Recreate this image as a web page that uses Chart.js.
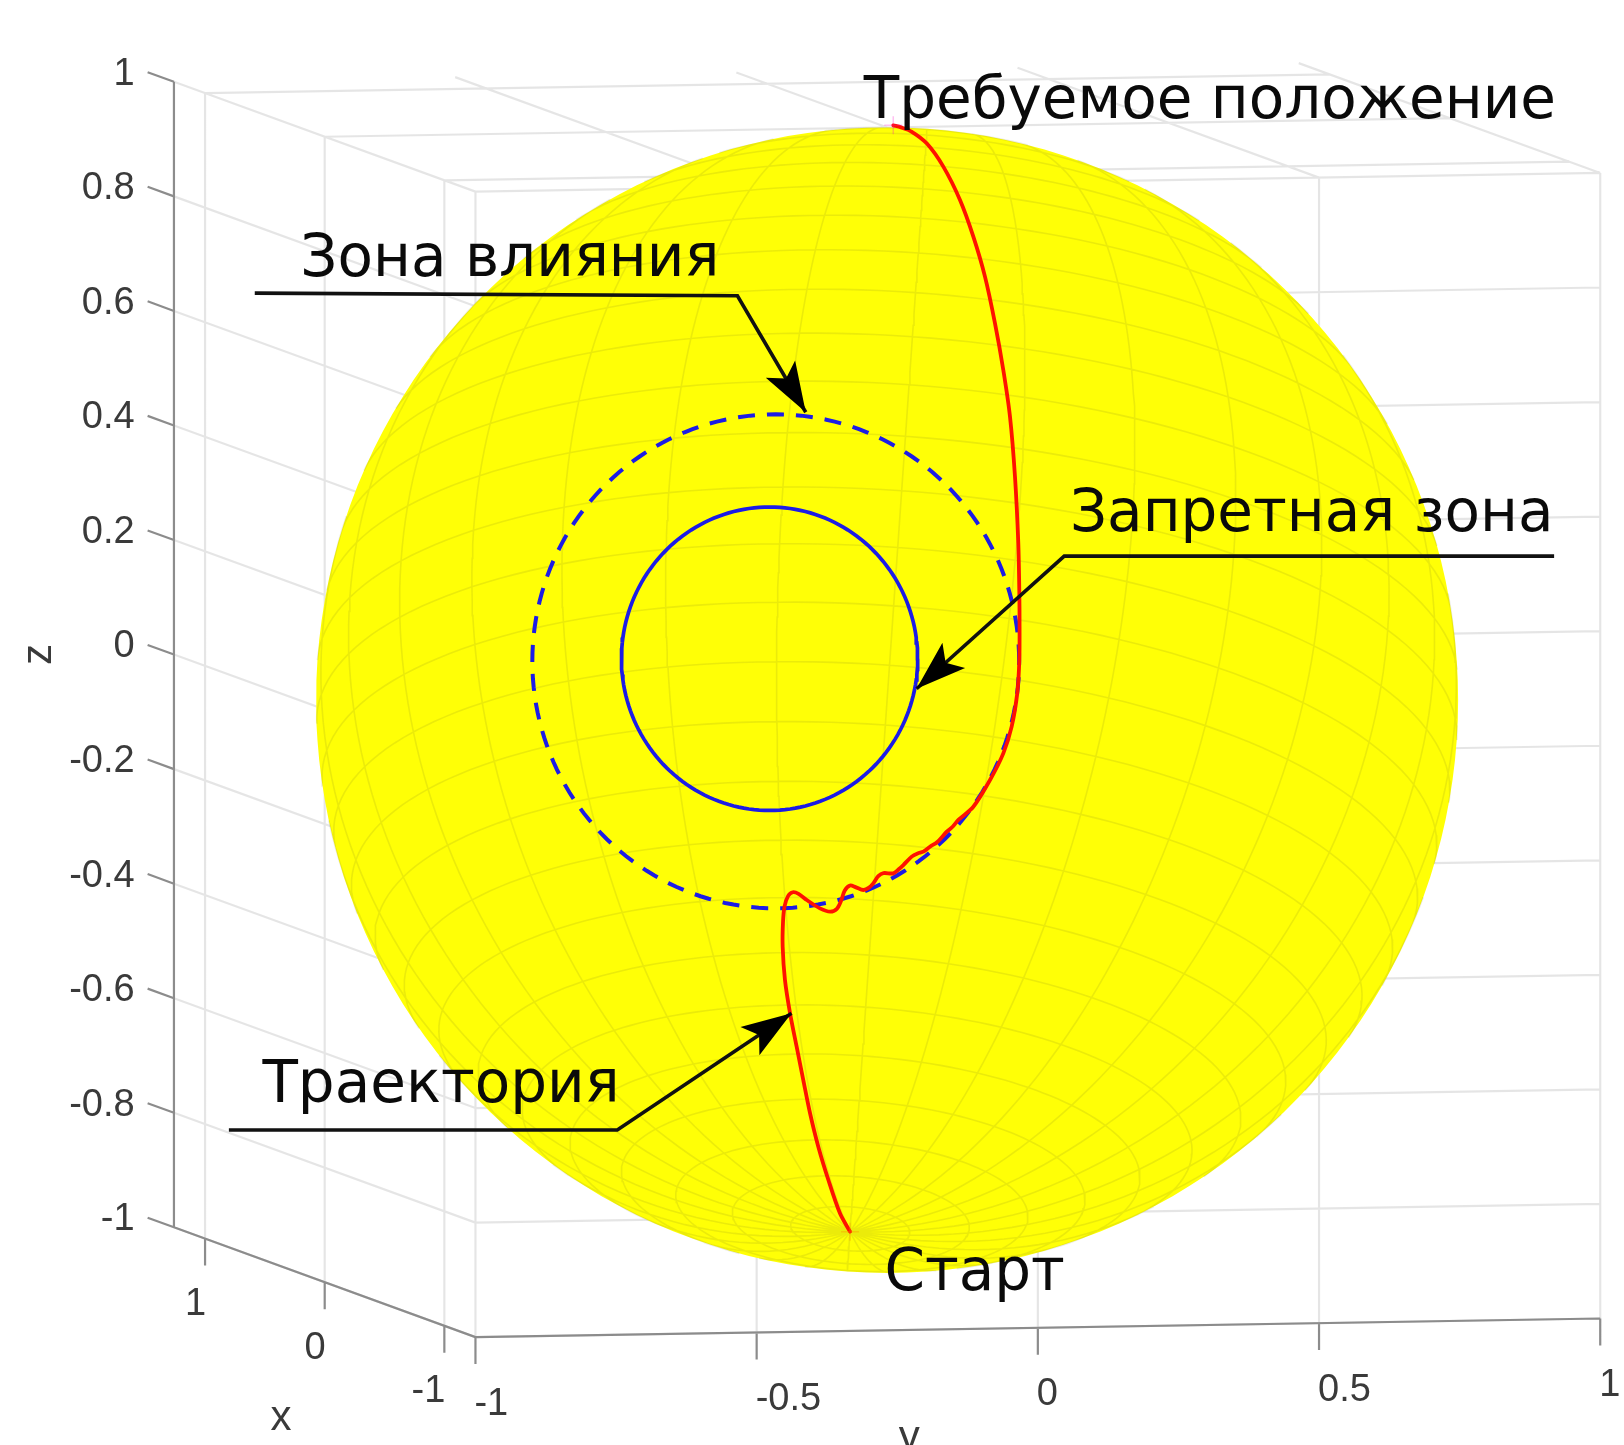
<!DOCTYPE html>
<html lang="ru">
<head>
<meta charset="utf-8">
<title>Траектория на сфере</title>
<script src="https://cdn.jsdelivr.net/npm/chart.js@4.4.1/dist/chart.umd.min.js"></script>
<style>
  html, body { margin: 0; padding: 0; background: #ffffff; }
  #wrap { width: 1624px; height: 1445px; }
  canvas { display: block; }
</style>
</head>
<body>
<div id="wrap"><canvas id="chart" width="1624" height="1445"></canvas></div>
<script>
// ---- Axis ticks of the 3-D box ----
const xTicks = [1, 0, -1];
const xTickLabels = ['1', '0', '-1'];
const yTicks = [-1, -0.5, 0, 0.5, 1];
const yTickLabels = ['-1', '-0.5', '0', '0.5', '1'];
const zTicks = [1, 0.8, 0.6, 0.4, 0.2, 0, -0.2, -0.4, -0.6, -0.8, -1];
const zTickLabels = ['1', '0.8', '0.6', '0.4', '0.2', '0', '-0.2', '-0.4', '-0.6', '-0.8', '-1'];
const xLimits = [-1.26, 1.26];
const yLimits = [-1, 1];
const zLimits = [-1, 1];

// ---- Trajectory on the sphere, in view-plane coordinates (start -> goal) ----
const trajU = [-0.0647, -0.0823, -0.1025, -0.1201, -0.1345, -0.1463, -0.1579, -0.1694, -0.1783, -0.1823,
  -0.1817, -0.1790, -0.1727, -0.1646, -0.1546, -0.1401, -0.1172, -0.0995, -0.0877, -0.0805,
  -0.0741, -0.0647, -0.0552, -0.0414, -0.0316, -0.0241, -0.0154, -0.0063, 0.0108, 0.0208,
  0.0284, 0.0430, 0.0533, 0.0633, 0.0749, 0.0877, 0.1042, 0.1148, 0.1244, 0.1506,
  0.1797, 0.2029, 0.2175, 0.2273, 0.2309, 0.2313, 0.2309, 0.2291, 0.2233, 0.2146,
  0.2029, 0.1884, 0.1709, 0.1506, 0.1273, 0.0982, 0.0691, 0.0425, 0.0244, 0.0108];
const trajV = [-0.9280, -0.8960, -0.8378, -0.7796, -0.7213, -0.6633, -0.6051, -0.5468, -0.4886, -0.4306,
  -0.3870, -0.3599, -0.3418, -0.3354, -0.3382, -0.3490, -0.3635, -0.3694, -0.3644, -0.3508,
  -0.3327, -0.3237, -0.3264, -0.3315, -0.3273, -0.3199, -0.3074, -0.3020, -0.3024, -0.2948,
  -0.2879, -0.2732, -0.2676, -0.2646, -0.2559, -0.2477, -0.2297, -0.2206, -0.2092, -0.1861,
  -0.1394, -0.0929, -0.0463, 0.0119, 0.0705, 0.1284, 0.1864, 0.2738, 0.3902, 0.4949,
  0.5765, 0.6579, 0.7394, 0.8092, 0.8732, 0.9315, 0.9722, 0.9928, 1.0000, 1.0036];

// ---- Zones on the sphere: centre and semi-axes in the view plane ----
const forbiddenZone = { u: -0.2052, v: 0.0723, ru: 0.2586, rv: 0.2649 };
const influenceZone = { u: -0.1944, v: 0.0678, ru: 0.4250, rv: 0.4313 };

// ---- Callout texts ----
const calloutLabels = ['Требуемое положение', 'Зона влияния', 'Запретная зона', 'Траектория', 'Старт'];

// ---- Layout (view-plane units) ----
const textAnchors = [
  { x: -0.0407, y: 1.0157 },
  { x: -1.0244, y: 0.7414 },
  { x: 0.3192, y: 0.2948 },
  { x: -1.0906, y: -0.7011 },
  { x: -0.0047, y: -1.0298 }
];
const leaders = [
  [{ x: -1.1040, y: 0.7107 }, { x: -0.2613, y: 0.7061 }, { x: -0.1420, y: 0.5027 }],
  [{ x: 1.1646, y: 0.2514 }, { x: 0.3093, y: 0.2514 }, { x: 0.0515, y: 0.0199 }],
  [{ x: -1.1492, y: -0.7505 }, { x: -0.4711, y: -0.7505 }, { x: -0.1669, y: -0.5468 }]
];
const axisTitles = [
  { text: 'x', x: -1.0582, y: -1.2741, rotate: false },
  { text: 'y', x: 0.0389, y: -1.3092, rotate: false },
  { text: 'z', x: -1.4792, y: 0.0796, rotate: true }
];

// Oblique view of the 3-D box onto the view plane
const VIEW = { xu: -0.2089, yu: 0.9819, xv: 0.0761, yv: 0.0163 };
function proj(x, y, z) {
  return { x: VIEW.xu * x + VIEW.yu * y, y: z + VIEW.xv * x + VIEW.yv * y };
}
const GAP = { x: null, y: null };
function seg(list, a, b) { list.push(proj(...a), proj(...b), GAP); }

// Sphere view: tilt of the polar axis towards the viewer and roll in the view plane
const SPHERE = { ru: 0.997, rv: 1.0, tilt: 21.5, roll: -4, lonStep: 12, latStep: 6 };
const RAD = Math.PI / 180;
function sphereView(lat, lon) {
  const t = SPHERE.tilt * RAD, r = SPHERE.roll * RAD;
  const cp = Math.cos(lat * RAD), sp = Math.sin(lat * RAD);
  const cl = Math.cos(lon * RAD), sl = Math.sin(lon * RAD);
  const U = cp * sl;
  const V = cp * cl * Math.sin(t) + sp * Math.cos(t);
  const W = cp * cl * Math.cos(t) - sp * Math.sin(t);
  return {
    x: SPHERE.ru * (U * Math.cos(r) - V * Math.sin(r)),
    y: SPHERE.rv * (U * Math.sin(r) + V * Math.cos(r)),
    front: W >= 0
  };
}

// ---- Box grid on the three back planes ----
const [xa, xb] = xLimits;
const gridPts = [];
xTicks.forEach(x => seg(gridPts, [x, yLimits[0], zLimits[0]], [x, yLimits[0], zLimits[1]]));
zTicks.forEach(z => seg(gridPts, [xb, yLimits[0], z], [xa, yLimits[0], z]));
yTicks.forEach(y => seg(gridPts, [xb, y, zLimits[1]], [xa, y, zLimits[1]]));
xTicks.forEach(x => seg(gridPts, [x, yLimits[0], zLimits[1]], [x, yLimits[1], zLimits[1]]));
yTicks.forEach(y => seg(gridPts, [xa, y, zLimits[0]], [xa, y, zLimits[1]]));
zTicks.forEach(z => seg(gridPts, [xa, yLimits[0], z], [xa, yLimits[1], z]));

// ---- Axis lines and tick marks ----
const Z_TICK = 0.22, XY_TICK = 0.047;
const axisPts = [];
seg(axisPts, [xb, yLimits[0], zLimits[0]], [xb, yLimits[0], zLimits[1]]);
seg(axisPts, [xb, yLimits[0], zLimits[0]], [xa, yLimits[0], zLimits[0]]);
seg(axisPts, [xa, yLimits[0], zLimits[0]], [xa, yLimits[1], zLimits[0]]);
zTicks.forEach(z => seg(axisPts, [xb, yLimits[0], z], [xb + Z_TICK, yLimits[0], z]));
xTicks.forEach(x => seg(axisPts, [x, yLimits[0], zLimits[0]], [x, yLimits[0], zLimits[0] - XY_TICK]));
yTicks.forEach(y => seg(axisPts, [xa, y, zLimits[0]], [xa, y, zLimits[0] - XY_TICK]));

// ---- Sphere outline and surface mesh ----
function ellipse(c, ru, rv) {
  const pts = [];
  for (let k = 0; k <= 360; k += 2) pts.push({ x: c.x + ru * Math.cos(k * RAD), y: c.y + rv * Math.sin(k * RAD) });
  return pts;
}
const sphereOutline = ellipse({ x: 0, y: 0 }, SPHERE.ru, SPHERE.rv);

const meshPts = [];
function pushRun(samples) {
  let open = false;
  samples.forEach(p => {
    if (p.front) { meshPts.push({ x: p.x, y: p.y }); open = true; }
    else if (open) { meshPts.push(GAP); open = false; }
  });
  if (open) meshPts.push(GAP);
}
for (let lon = 0; lon < 360; lon += SPHERE.lonStep) {
  const s = [];
  for (let lat = -90; lat <= 90; lat += 1.5) s.push(sphereView(lat, lon));
  pushRun(s);
}
for (let lat = -90 + SPHERE.latStep; lat < 90; lat += SPHERE.latStep) {
  const s = [];
  for (let lon = -180; lon <= 180; lon += 2) s.push(sphereView(lat, lon));
  pushRun(s);
}

const trajectory = trajU.map((u, i) => ({ x: u, y: trajV[i] }));

const FONT_CALLOUT = '58px "DejaVu Sans", Verdana, sans-serif';
const FONT_TICK = '38px "Liberation Sans", Arial, sans-serif';
const FONT_TITLE = '42px "Liberation Sans", Arial, sans-serif';

const overlay = {
  id: 'overlay',
  afterDatasetsDraw(chart) {
    const { ctx } = chart;
    const sx = chart.scales.x, sy = chart.scales.y;
    const P = p => [sx.getPixelForValue(p.x), sy.getPixelForValue(p.y)];
    ctx.save();

    // arrowheads at the end of each leader
    ctx.fillStyle = '#000000';
    leaders.forEach(pts => {
      const [tx, ty] = P(pts[pts.length - 1]);
      const [bx, by] = P(pts[pts.length - 2]);
      const len = Math.hypot(tx - bx, ty - by);
      const dx = (tx - bx) / len, dy = (ty - by) / len;
      const L = 50, W = 17, N = 0.78;
      ctx.beginPath();
      ctx.moveTo(tx, ty);
      ctx.lineTo(tx - L * dx - W * dy, ty - L * dy + W * dx);
      ctx.lineTo(tx - N * L * dx, ty - N * L * dy);
      ctx.lineTo(tx - L * dx + W * dy, ty - L * dy - W * dx);
      ctx.closePath();
      ctx.fill();
    });

    // tick labels
    ctx.fillStyle = '#3a3a3a';
    ctx.font = FONT_TICK;
    ctx.textBaseline = 'middle';
    ctx.textAlign = 'right';
    zTicks.forEach((z, i) => {
      const [px, py] = P(proj(xb + Z_TICK, yLimits[0], z));
      ctx.fillText(zTickLabels[i], px - 13, py + 2);
    });
    xTicks.forEach((x, i) => {
      const [px, py] = P(proj(x, yLimits[0], zLimits[0]));
      ctx.fillText(xTickLabels[i], px + 1, py + 66);
    });
    ctx.textAlign = 'left';
    yTicks.forEach((y, i) => {
      const [px, py] = P(proj(xa, y, zLimits[0]));
      ctx.fillText(yTickLabels[i], px - 1, py + 67);
    });

    // axis titles
    ctx.font = FONT_TITLE;
    ctx.textAlign = 'center';
    ctx.textBaseline = 'alphabetic';
    axisTitles.forEach(t => {
      const [px, py] = P(t);
      if (t.rotate) {
        ctx.save();
        ctx.translate(px, py);
        ctx.rotate(-Math.PI / 2);
        ctx.textBaseline = 'middle';
        ctx.fillText(t.text, 0, 0);
        ctx.restore();
      } else {
        ctx.fillText(t.text, px, py);
      }
    });

    // callout texts
    ctx.fillStyle = '#0a0a0a';
    ctx.font = FONT_CALLOUT;
    ctx.textAlign = 'left';
    ctx.textBaseline = 'alphabetic';
    calloutLabels.forEach((s, i) => {
      const [px, py] = P(textAnchors[i]);
      ctx.fillText(s, px, py);
    });
    ctx.restore();
  }
};

const lineDefaults = { pointRadius: 0, pointHoverRadius: 0, fill: false, tension: 0, spanGaps: false };

new Chart(document.getElementById('chart'), {
  type: 'line',
  data: {
    datasets: [
      Object.assign({}, lineDefaults, { label: 'grid', data: gridPts, borderColor: 'rgba(0,0,0,0.10)', borderWidth: 2.2, order: 100 }),
      Object.assign({}, lineDefaults, { label: 'axes', data: axisPts, borderColor: '#8c8c8c', borderWidth: 2.2, order: 95 }),
      Object.assign({}, lineDefaults, { label: 'sphere', data: sphereOutline, fill: 'shape', backgroundColor: 'rgb(255,255,6)', borderColor: 'rgba(0,0,0,0)', borderWidth: 0, order: 90 }),
      Object.assign({}, lineDefaults, { label: 'mesh', data: meshPts, borderColor: 'rgba(90,90,40,0.12)', borderWidth: 1.6, order: 85 }),
      Object.assign({}, lineDefaults, { label: 'influence', data: ellipse({ x: influenceZone.u, y: influenceZone.v }, influenceZone.ru, influenceZone.rv), borderColor: '#1c1ce6', borderWidth: 4, borderDash: [17, 12], order: 20 }),
      Object.assign({}, lineDefaults, { label: 'forbidden', data: ellipse({ x: forbiddenZone.u, y: forbiddenZone.v }, forbiddenZone.ru, forbiddenZone.rv), borderColor: '#1c1ce6', borderWidth: 3.7, order: 19 }),
      Object.assign({}, lineDefaults, { label: 'trajectory', data: trajectory, borderColor: '#ff1200', borderWidth: 3.8, tension: 0.3, borderJoinStyle: 'round', borderCapStyle: 'round', order: 10 }),
      Object.assign({}, lineDefaults, { label: 'ends', data: [trajectory[0], trajectory[trajectory.length - 1]], showLine: false, pointRadius: 9, pointStyle: 'cross', pointBorderColor: ['rgba(255,140,0,0.35)', 'rgba(255,0,200,0.25)'], pointBorderWidth: 1.5, order: 9 }),
      Object.assign({}, lineDefaults, { label: 'leader1', data: leaders[0], borderColor: '#111111', borderWidth: 3.6, order: 5 }),
      Object.assign({}, lineDefaults, { label: 'leader2', data: leaders[1], borderColor: '#111111', borderWidth: 3.6, order: 5 }),
      Object.assign({}, lineDefaults, { label: 'leader3', data: leaders[2], borderColor: '#111111', borderWidth: 3.6, order: 5 })
    ]
  },
  options: {
    responsive: false,
    animation: false,
    devicePixelRatio: 1,
    events: [],
    layout: { padding: 0, autoPadding: false },
    plugins: { legend: { display: false }, tooltip: { enabled: false }, title: { display: false } },
    scales: {
      x: { type: 'linear', min: -1.54882, max: 1.28662, display: false },
      y: { type: 'linear', min: -1.30049, max: 1.22242, display: false }
    }
  },
  plugins: [overlay]
});
</script>
</body>
</html>
